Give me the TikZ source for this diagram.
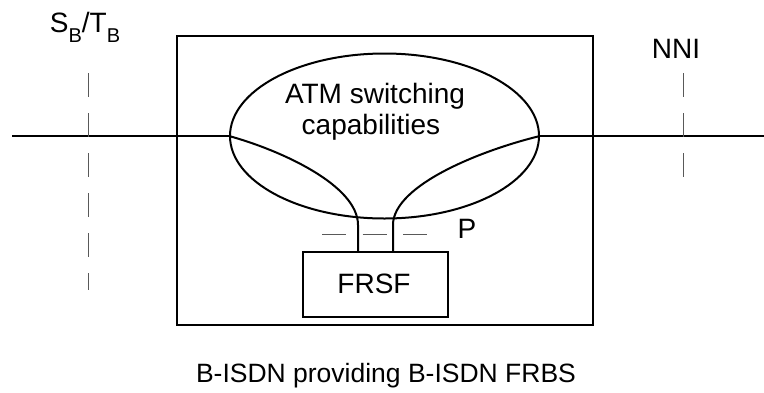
\documentclass[tikz,border=0pt]{standalone}
\usepackage{fontspec}
\setmainfont{Liberation Sans}
\usetikzlibrary{shapes.geometric}
\begin{document}
\begin{tikzpicture}[x=1pt,y=-1pt,
  solidline/.style={line width=2pt,black},
  refline/.style={line width=1pt,black!65,dash pattern=on 24pt off 16pt},
  lbl/.style={font=\fontsize{28}{32}\selectfont,inner sep=0pt},
  captext/.style={font=\fontsize{26.5}{32}\selectfont,inner sep=0pt}]
\useasboundingbox (0,0) rectangle (764,392);
% outer box
\node[solidline,draw,rectangle,minimum width=416pt,minimum height=289pt,inner sep=0pt] (net) at (385,180.5) {};
% ATM ellipse
\node[solidline,draw,ellipse,minimum width=309pt,minimum height=165pt,inner sep=0pt] (atm) at (384.5,136) {};
\node[lbl,anchor=base] (atmA) at (375,103) {ATM switching};
\node[lbl,anchor=base] (atmB) at (371,134) {capabilities};
% FRSF box
\node[solidline,draw,rectangle,minimum width=145pt,minimum height=65pt,inner sep=0pt] (frsf) at (375.5,284.5) {};
\node[lbl] (frsft) at (374,284) {FRSF};
% coordinates
\coordinate (lend) at (12,136);
\coordinate (rend) at (764,136);
\coordinate (fl) at (358,252);
\coordinate (fr) at (393,252);
% main line
\draw[solidline] (lend) -- (atm.west);
\draw[solidline] (atm.east) -- (rend);
% curves into FRSF
\draw[solidline] (atm.west) .. controls (280,150) and (358,185) .. (358,225) -- (fl);
\draw[solidline] (atm.east) .. controls (482,150) and (393,185) .. (393,225) -- (fr);
% reference points
\coordinate (sbt) at (88,73);
\coordinate (sbb) at (88,290);
\draw[refline] (sbt) -- (sbb);
\coordinate (nnit) at (683,73);
\coordinate (nnib) at (683,177);
\draw[refline] (nnit) -- (nnib);
\coordinate (pl) at (322,234);
\coordinate (pr) at (427,234);
\draw[refline,dash pattern=on 24pt off 16.5pt] (pl) -- (pr);
% labels
\node[lbl,anchor=base] (sbtb) at (85,32) {S\raisebox{-10pt}{\fontsize{20}{20}\selectfont B}/T\raisebox{-10pt}{\fontsize{20}{20}\selectfont B}};
\node[lbl] (nni) at (676,49) {NNI};
\node[lbl] (p) at (467,228.5) {P};
\node[captext,anchor=base] (caption) at (386,382) {B-ISDN providing B-ISDN FRBS};
\end{tikzpicture}
\end{document}
